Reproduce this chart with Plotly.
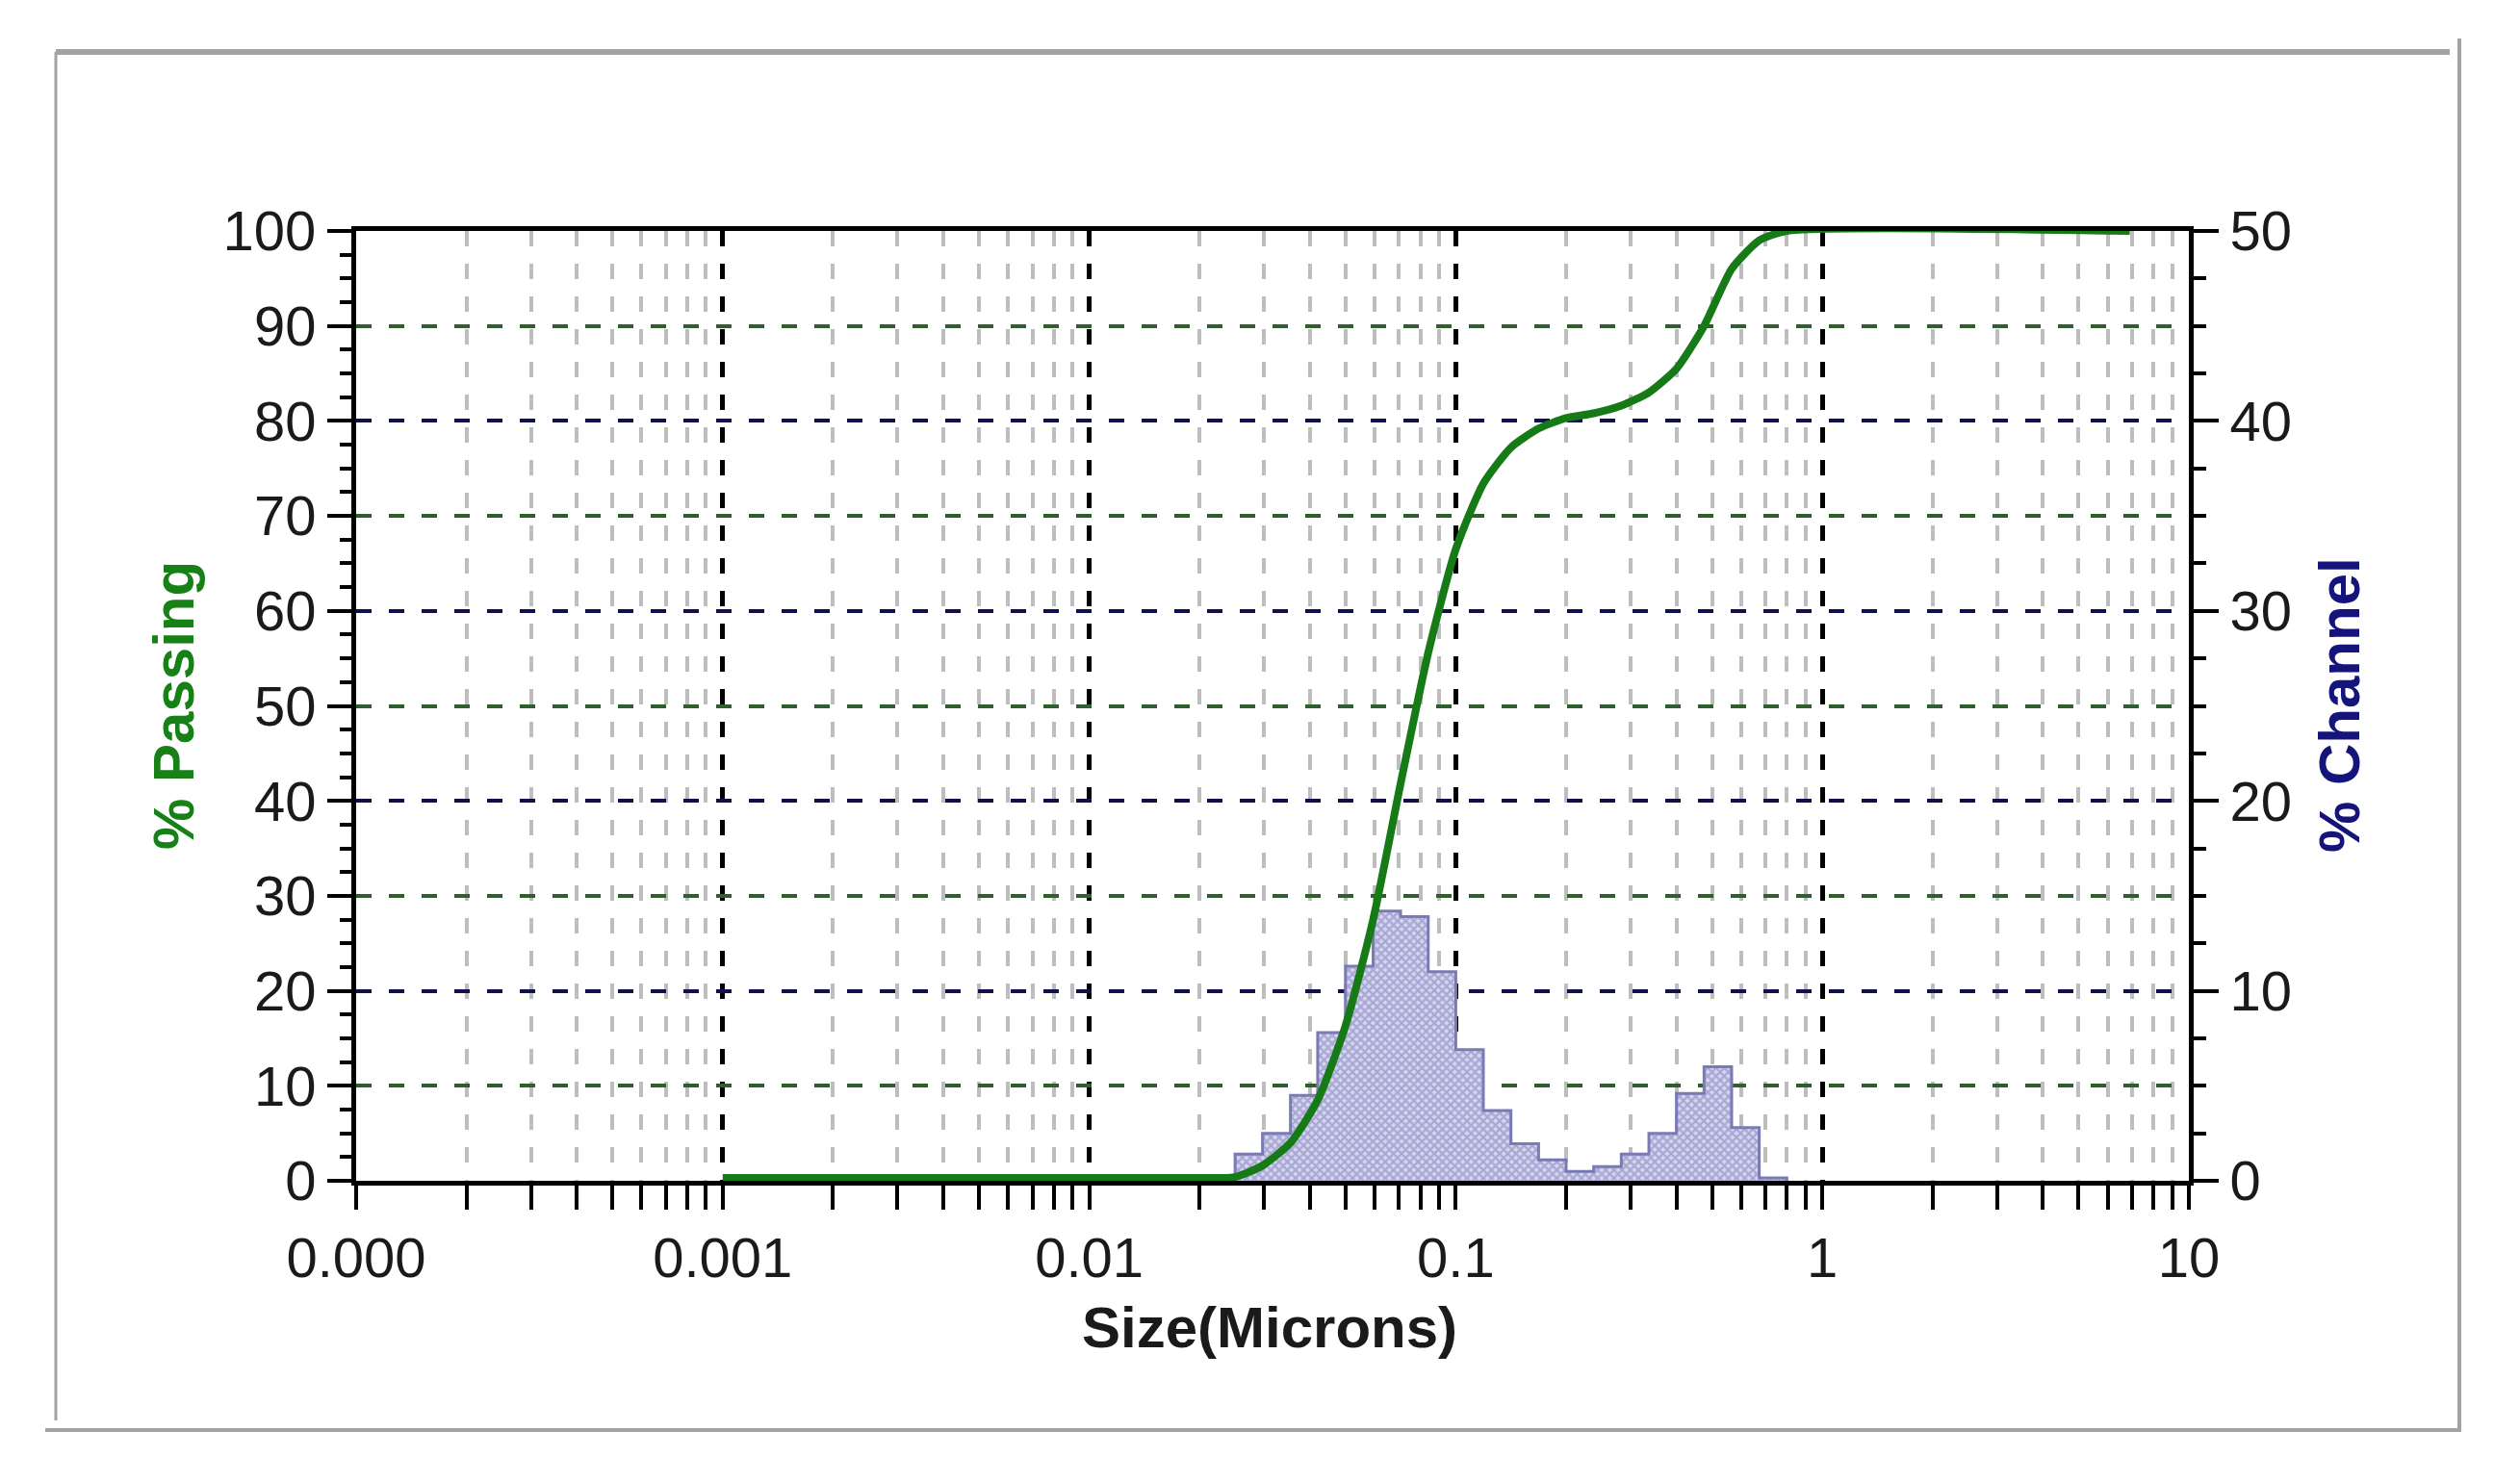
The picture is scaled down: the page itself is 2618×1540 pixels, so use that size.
import plotly.graph_objects as go

# ---- data ----
# channel edges (microns) and % channel values for the histogram
channel_edges = [0.025, 0.0297, 0.0354, 0.0420, 0.05, 0.0595, 0.0707, 0.0841, 0.1,
                 0.1189, 0.1414, 0.1682, 0.2, 0.2378, 0.2828, 0.3364, 0.4,
                 0.4757, 0.5657, 0.6727, 0.8]
channel_pct = [1.4, 2.5, 4.5, 7.8, 11.3, 14.2, 13.9, 11.0, 6.9, 3.7, 1.95, 1.1,
               0.5, 0.75, 1.4, 2.5, 4.6, 6.0, 2.8, 0.15]

# cumulative % passing curve
curve_size = [0.001, 0.02, 0.025, 0.0297, 0.0354, 0.0420, 0.05, 0.0595, 0.0707, 0.0841, 0.1,
              0.1189, 0.1414, 0.1682, 0.2, 0.2378, 0.2828, 0.3364, 0.4, 0.4757,
              0.5657, 0.6727, 0.8, 6.9]
curve_passing = [0.3, 0.3, 0.4, 1.6, 4.0, 8.5, 16.3, 27.5, 41.8, 55.6, 66.5, 73.4, 77.2, 79.2,
                 80.3, 80.8, 81.6, 83.0, 85.5, 90.0, 96.0, 99.0, 100, 100]

x_tickvals = [0.0001, 0.001, 0.01, 0.1, 1, 10]
x_ticktext = ["0.000", "0.001", "0.01", "0.1", "1", "10"]
left_ticks = [0, 10, 20, 30, 40, 50, 60, 70, 80, 90, 100]
right_ticks = [0, 10, 20, 30, 40, 50]
green_grid = [10, 30, 50, 70, 90]

# ---- geometry (screen pixels; page body has an 8px margin) ----
OFF = 8
W, H = 2618, 1540
L, R, T, B = 370 - OFF, 2274 - OFF, 240 - OFF, 1227 - OFF
PW, PH = R - L, B - T

FONT = "Arial, Liberation Sans, sans-serif"
DASH = "16px,18px"

minor_x = [m * d for d in [0.0001, 0.001, 0.01, 0.1, 1] for m in range(2, 10)]

# step outline for histogram
hx = [channel_edges[0]] + channel_edges + [channel_edges[-1]]
hy = [0] + channel_pct + [channel_pct[-1], 0]

fig = go.Figure()
fig.add_trace(go.Scatter(
    x=hx, y=hy, yaxis="y", mode="lines",
    line=dict(color="#7a7ab4", width=3, shape="hv"),
    fill="tozeroy", fillcolor="#cfcfea",
    fillpattern=dict(shape="x", size=6, solidity=0.6, fgcolor="#7878bc", bgcolor="#d6d6ee"),
    showlegend=False, hoverinfo="skip"))
fig.add_trace(go.Scatter(x=[None], y=[None], yaxis="y3", showlegend=False, hoverinfo="skip"))
fig.add_trace(go.Scatter(
    x=curve_size, y=curve_passing, yaxis="y2", mode="lines",
    line=dict(color="#167a16", width=8, shape="spline", smoothing=0.6),
    cliponaxis=False, showlegend=False))

tickfont = dict(family=FONT, size=58, color="#1a1a1a")

fig.update_layout(
    width=W, height=H,
    margin=dict(l=L, r=W - R, t=T, b=H - B, pad=0),
    paper_bgcolor="white", plot_bgcolor="white",
    showlegend=False,
    xaxis=dict(
        type="log", range=[-4, 1],
        tickmode="array", tickvals=x_tickvals, ticktext=x_ticktext,
        ticks="outside", ticklen=25, tickwidth=4, tickcolor="black",
        showline=True, linewidth=5, linecolor="black", mirror=True,
        showgrid=True, gridcolor="black", gridwidth=5, griddash=DASH,
        tickfont=tickfont, layer="below traces",
        minor=dict(tickmode="array", tickvals=minor_x, ticks="outside", ticklen=25,
                   tickwidth=4, tickcolor="black", showgrid=True,
                   gridcolor="#bdbdbd", gridwidth=4, griddash=DASH),
    ),
    yaxis=dict(
        side="right", range=[0, 50],
        tickmode="array", tickvals=right_ticks,
        ticks="outside", ticklen=26, tickwidth=4, tickcolor="black",
        showline=True, linewidth=5, linecolor="black",
        showgrid=True, gridcolor="#10104a", gridwidth=4, griddash=DASH,
        zeroline=False, tickfont=tickfont,
        minor=dict(dtick=2.5, ticks="outside", ticklen=13, tickwidth=4,
                   tickcolor="black", showgrid=False),
    ),
    yaxis2=dict(
        side="left", overlaying="y", range=[0, 100],
        tickmode="array", tickvals=left_ticks,
        ticks="outside", ticklen=25, tickwidth=4, tickcolor="black",
        showline=True, linewidth=5, linecolor="black",
        showgrid=False, zeroline=False, tickfont=tickfont,
        minor=dict(dtick=2.5, ticks="outside", ticklen=12, tickwidth=4,
                   tickcolor="black", showgrid=False),
    ),
    yaxis3=dict(
        side="left", overlaying="y", range=[0, 100],
        tickmode="array", tickvals=green_grid, ticks="", showticklabels=False,
        showline=False, showgrid=True, gridcolor="#2f5e2f", gridwidth=4,
        griddash=DASH, zeroline=False,
    ),
)

def px(xs):
    return (xs - OFF - L) / PW

def py(ys):
    return (B - (ys - OFF)) / PH

# axis titles
fig.add_annotation(text="<b>% Passing</b>", xref="paper", yref="paper",
                   x=px(180), y=py(733), textangle=-90, showarrow=False,
                   font=dict(family=FONT, size=60, color="#178017"),
                   xanchor="center", yanchor="middle")
fig.add_annotation(text="<b>% Channel</b>", xref="paper", yref="paper",
                   x=px(2430), y=py(733), textangle=-90, showarrow=False,
                   font=dict(family=FONT, size=60, color="#14147a"),
                   xanchor="center", yanchor="middle")
fig.add_annotation(text="<b>Size(Microns)</b>", xref="paper", yref="paper",
                   x=px(1319), y=py(1379), showarrow=False,
                   font=dict(family=FONT, size=60, color="#1a1a1a"),
                   xanchor="center", yanchor="middle")

# outer gray frame
frame = "#a2a2a2"
fig.add_shape(type="line", xref="paper", yref="paper", x0=px(58), x1=px(2545), y0=py(54), y1=py(54),
              line=dict(color=frame, width=6))
fig.add_shape(type="line", xref="paper", yref="paper", x0=px(58), x1=px(58), y0=py(54), y1=py(1476),
              line=dict(color=frame, width=3))
fig.add_shape(type="line", xref="paper", yref="paper", x0=px(2555), x1=px(2555), y0=py(40), y1=py(1488),
              line=dict(color=frame, width=4))
fig.add_shape(type="line", xref="paper", yref="paper", x0=px(47), x1=px(2557), y0=py(1486), y1=py(1486),
              line=dict(color=frame, width=4))

fig.write_html("out.html")
